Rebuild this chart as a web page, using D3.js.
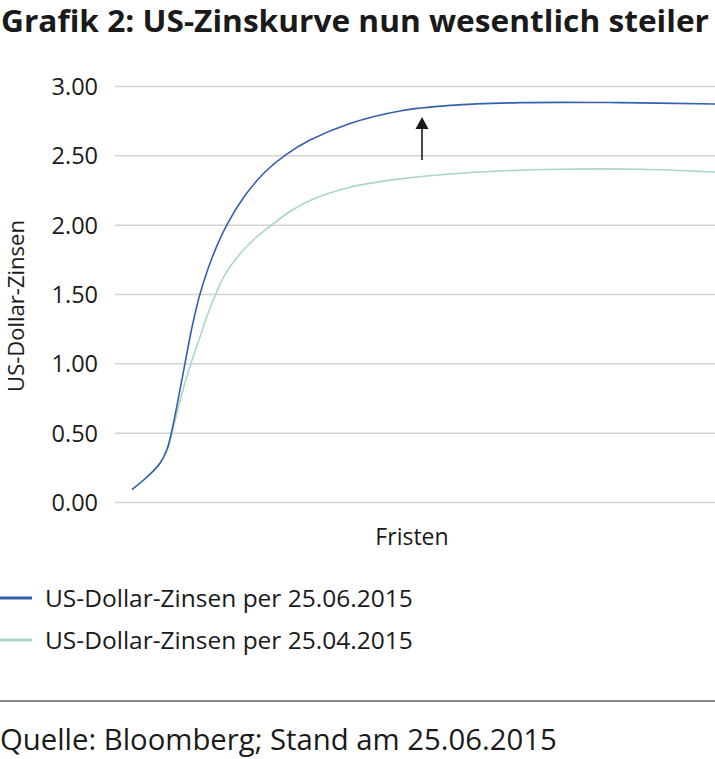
<!DOCTYPE html>
<html>
<head>
<meta charset="utf-8">
<script src="https://cdn.jsdelivr.net/npm/d3@7"></script>
<style>
  html, body { margin: 0; padding: 0; background: #fff; }
  svg { display: block; font-family: "Open Sans", "Noto Sans", sans-serif; }
</style>
</head>
<body>
<svg id="chart" width="715" height="759"></svg>
<script>
// ---- data ----
const titleText = "Grafik 2: US-Zinskurve nun wesentlich steiler";
const yAxisLabel = "US-Dollar-Zinsen";
const xAxisLabel = "Fristen";
const sourceText = "Quelle: Bloomberg; Stand am 25.06.2015";
const yTicks = [0, 0.5, 1, 1.5, 2, 2.5, 3];
const seriesNames = ["US-Dollar-Zinsen per 25.06.2015", "US-Dollar-Zinsen per 25.04.2015"];
const seriesColors = ["#3461ad", "#a9d6c5"];

// x = relative maturity position (unlabelled axis "Fristen")
const fristenJun = [0.85, 1.6, 2.25, 2.6, 2.85, 3.25, 3.5, 3.85, 4.25, 4.85, 5.6, 6.5, 7.5, 8.5, 9.75, 11.75, 14.25, 16.75, 20.25, 25.25, 30];
const zinsenJun  = [0.09, 0.18, 0.28, 0.38, 0.52, 0.81, 1.00, 1.26, 1.50, 1.76, 2.00, 2.21, 2.38, 2.50, 2.61, 2.73, 2.82, 2.86, 2.88, 2.88, 2.87];
const fristenApr = [0.85, 1.6, 2.25, 2.6, 2.85, 3.4, 3.8, 4.25, 4.65, 5.1, 5.5, 6.25, 7.0, 7.85, 8.75, 9.75, 11.75, 14.25, 18.25, 22.25, 26.25, 30];
const zinsenApr  = [0.09, 0.18, 0.28, 0.37, 0.50, 0.81, 1.00, 1.19, 1.36, 1.52, 1.64, 1.79, 1.90, 2.00, 2.095, 2.175, 2.27, 2.33, 2.38, 2.40, 2.40, 2.38];
// arrow annotation (data units)
const arrowX = 15.35, arrowFrom = 2.466, arrowTo = 2.776;

// ---- layout ----
const svg = d3.select("#chart");
const x = d3.scaleLinear().domain([0, 30]).range([115, 715]);
const y = d3.scaleLinear().domain([0, 3]).range([502, 86]);
const textColor = "#1a1a1a";

// title
const t = svg.append("text")
  .attr("x", 1).attr("y", 32)
  .attr("font-size", 30.5).attr("font-weight", 700)
  .attr("fill", textColor)
  .text(titleText);
const tw = t.node().getComputedTextLength();
if (Math.abs(tw - 708) > 3) t.attr("textLength", 708).attr("lengthAdjust", "spacingAndGlyphs");

// gridlines
const grid = svg.append("g")
  .attr("transform", `translate(115,0)`)
  .call(d3.axisLeft(y).tickValues(yTicks).tickSize(-(715 - 115)).tickFormat(d3.format(".2f")));
grid.select(".domain").remove();
grid.selectAll(".tick line").attr("stroke", "#d3d3d3").attr("stroke-width", 1.5);
grid.selectAll(".tick text")
  .attr("x", -17).attr("dy", "0.36em")
  .attr("font-size", 23.5).attr("fill", textColor)
  .attr("font-family", "'Open Sans', sans-serif");

// lines
const line = d3.line().x(d => x(d[0])).y(d => y(d[1])).curve(d3.curveCatmullRom.alpha(0.5));
const apr = fristenApr.map((f, i) => [f, zinsenApr[i]]);
const jun = fristenJun.map((f, i) => [f, zinsenJun[i]]);
svg.append("path").datum(apr).attr("d", line)
  .attr("fill", "none").attr("stroke", seriesColors[1]).attr("stroke-width", 1.6);
svg.append("path").datum(jun).attr("d", line)
  .attr("fill", "none").attr("stroke", seriesColors[0]).attr("stroke-width", 1.6);

// arrow
const ax = x(arrowX), ay0 = y(arrowFrom), ay1 = y(arrowTo);
svg.append("line").attr("x1", ax).attr("x2", ax).attr("y1", ay0).attr("y2", ay1 + 11)
  .attr("stroke", textColor).attr("stroke-width", 1.6);
svg.append("path")
  .attr("d", `M${ax},${ay1} L${ax - 6.5},${ay1 + 12} L${ax + 6.5},${ay1 + 12} Z`)
  .attr("fill", textColor);

// y axis label
svg.append("text")
  .attr("transform", `translate(24,306) rotate(-90)`)
  .attr("text-anchor", "middle")
  .attr("font-size", 22).attr("fill", textColor)
  .text(yAxisLabel);

// x axis label
svg.append("text")
  .attr("x", 412).attr("y", 545)
  .attr("text-anchor", "middle")
  .attr("font-size", 23).attr("fill", textColor)
  .text(xAxisLabel);

// legend
const legY = [598, 640];
seriesNames.forEach((name, i) => {
  svg.append("line").attr("x1", 0).attr("x2", 32).attr("y1", legY[i]).attr("y2", legY[i])
    .attr("stroke", seriesColors[i]).attr("stroke-width", 3);
  svg.append("text").attr("x", 45).attr("y", legY[i] + 9)
    .attr("font-size", 24.5).attr("fill", textColor).text(name);
});

// separator
svg.append("line").attr("x1", 0).attr("x2", 715).attr("y1", 701).attr("y2", 701)
  .attr("stroke", "#8a8a8a").attr("stroke-width", 2);

// source
svg.append("text").attr("x", 0).attr("y", 750)
  .attr("font-size", 29.3).attr("fill", textColor).text(sourceText);
</script>
</body>
</html>
